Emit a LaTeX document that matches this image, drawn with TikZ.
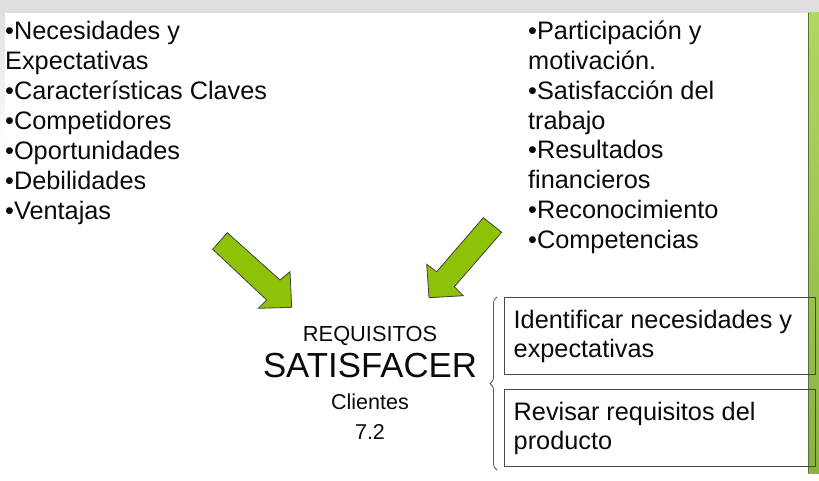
\documentclass[tikz,border=0pt]{standalone}
\usepackage{fontspec}
\setmainfont{Liberation Sans}
\usetikzlibrary{decorations.pathreplacing}
\definecolor{arrowgreen}{RGB}{142,194,8}
\definecolor{topgray}{RGB}{224,224,224}
\definecolor{bartop}{RGB}{176,216,96}
\definecolor{barbot}{RGB}{138,178,66}
\definecolor{baredge}{RGB}{90,110,60}
\definecolor{inkcol}{RGB}{10,10,10}
\begin{document}
\begin{tikzpicture}[x=1pt,y=-1pt,
  txt/.style={anchor=base west, inner sep=0pt, text=inkcol, font=\fontsize{25.3}{29}\selectfont},
  ctxt/.style={anchor=base, inner sep=0pt, text=inkcol},
  blockarrow/.style={fill=arrowgreen, draw=black!75, line width=0.8pt, line join=miter},
  boxframe/.style={draw=black!72, line width=1.2pt, inner sep=0pt, anchor=north west, minimum width=311pt, minimum height=77pt}]
\useasboundingbox (0,0) rectangle (819,480);
\fill[white] (0,0) rectangle (819,480);
% top gray band and left strip
\fill[topgray] (0,0) rectangle (819,12.5);
\shade[top color=topgray, bottom color=white] (0,12.5) rectangle (4.5,150);
% right green bar
\shade[top color=bartop, bottom color=barbot] (808,12.5) rectangle (819,473);
\draw[baredge, line width=0.8pt] (808.4,12.5) -- (808.4,473);

% left list
\node[txt] (l1) at (5,39.3) {•Necesidades y};
\node[txt] (l2) at (5,69.4) {Expectativas};
\node[txt] (l3) at (5,99.5) {•Características Claves};
\node[txt] (l4) at (5,129.6) {•Competidores};
\node[txt] (l5) at (5,159.7) {•Oportunidades};
\node[txt] (l6) at (5,189.8) {•Debilidades};
\node[txt] (l7) at (5,219.9) {•Ventajas};

% right list
\node[txt] (r1) at (528,39.3) {•Participación y};
\node[txt] (r2) at (528,69.2) {motivación.};
\node[txt] (r3) at (528,99.1) {•Satisfacción del};
\node[txt] (r4) at (528,129.0) {trabajo};
\node[txt] (r5) at (528,158.9) {•Resultados};
\node[txt] (r6) at (528,188.8) {financieros};
\node[txt] (r7) at (528,218.7) {•Reconocimiento};
\node[txt] (r8) at (528,248.6) {•Competencias};

% block arrows
\draw[blockarrow] (212.7,249.3) -- (227.3,232.7) -- (280,280) -- (290,271.7)
  -- (291.7,307.3) -- (258.3,308.3) -- (266.7,300) -- cycle;
\draw[blockarrow] (483.3,217.7) -- (501.7,232.3) -- (454.3,286.7) -- (463.3,295.7)
  -- (429,297.7) -- (426.7,264.3) -- (436.7,271.7) -- cycle;

% centre text
\node[ctxt, font=\fontsize{21.8}{24}\selectfont] (req) at (370,341.7) {REQUISITOS};
\node[ctxt, font=\fontsize{34.8}{40}\selectfont] (sat) at (370,377.7) {SATISFACER};
\node[ctxt, font=\fontsize{21.5}{24}\selectfont] (cli) at (370,409) {Clientes};
\node[ctxt, font=\fontsize{21.5}{24}\selectfont] (num) at (370,439.5) {7.2};

% brace
\draw[black!65, line width=0.8pt, decorate, decoration={brace, amplitude=7pt}] (497,470) -- (497,297);

% boxes
\node[boxframe] (b1) at (504,297) {};
\node[boxframe] (b2) at (504,389) {};
\node[txt] (b1a) at (513.5,328.3) {Identificar necesidades y};
\node[txt] (b1b) at (513.5,357.3) {expectativas};
\node[txt] (b2a) at (513.5,420) {Revisar requisitos del};
\node[txt] (b2b) at (513.5,449) {producto};
\end{tikzpicture}
\end{document}
